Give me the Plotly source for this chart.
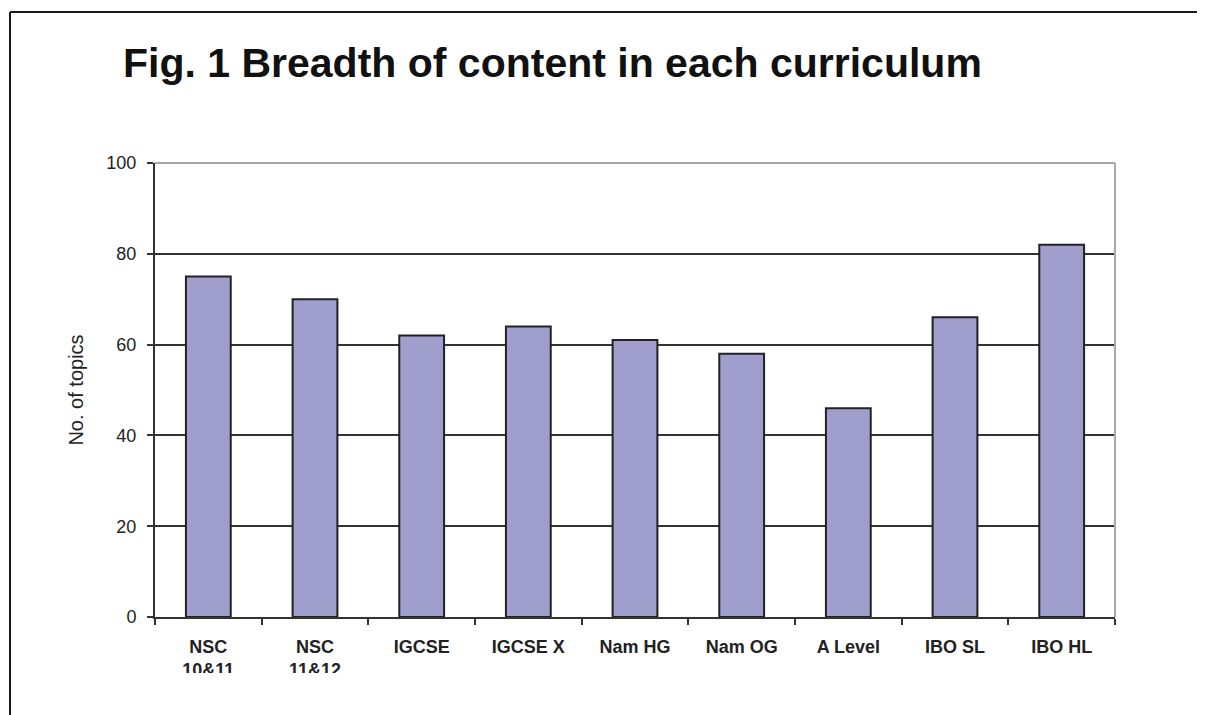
import plotly.graph_objects as go

categories = ["NSC<br>10&11", "NSC<br>11&12", "IGCSE", "IGCSE X", "Nam HG",
              "Nam OG", "A Level", "IBO SL", "IBO HL"]
topics = [75, 70, 62, 64, 61, 58, 46, 66, 82]
y_ticks = [0, 20, 40, 60, 80, 100]

OFF = 8  # page body margin
W, H = 1205 - OFF, 715 - OFF
L, R, T, B = 155 - OFF, 1115 - OFF, 163 - OFF, 617 - OFF

FONT = "Arial, 'Liberation Sans', sans-serif"

fig = go.Figure(go.Bar(
    x=categories, y=topics,
    marker=dict(color="#A09ECC", line=dict(color="#222222", width=2)),
    width=0.42,
))

def px_x(px):
    return (px - OFF - L) / (R - L)

def px_y(py):
    return (B - (py - OFF)) / (B - T)

shapes = [
    dict(type="line", xref="paper", yref="paper", x0=0, x1=1, y0=1, y1=1,
         line=dict(color="#A8A8A8", width=2), layer="above"),
    dict(type="line", xref="paper", yref="paper", x0=1, x1=1, y0=0, y1=1,
         line=dict(color="#A8A8A8", width=2), layer="above"),
    # clip lower part of the wrapped labels
    dict(type="rect", xref="paper", yref="paper",
         x0=px_x(60), x1=px_x(1200), y0=px_y(673), y1=px_y(716),
         fillcolor="white", line=dict(width=0), layer="above"),
    # outer frame (top and left)
    dict(type="line", xref="paper", yref="paper",
         x0=px_x(10), x1=px_x(1206), y0=px_y(12), y1=px_y(12),
         line=dict(color="#1a1a1a", width=2), layer="above"),
    dict(type="line", xref="paper", yref="paper",
         x0=px_x(10), x1=px_x(10), y0=px_y(12), y1=px_y(716),
         line=dict(color="#1a1a1a", width=2), layer="above"),
]

fig.update_layout(
    width=W, height=H,
    margin=dict(l=L, r=W - R, t=T, b=H - B, pad=0),
    paper_bgcolor="white", plot_bgcolor="white",
    showlegend=False,
    title=dict(text="<b>Fig. 1 Breadth of content in each curriculum</b>",
               font=dict(family=FONT, size=41, color="#111111"),
               xref="container", yref="container",
               x=(123 - OFF) / W, xanchor="left", y=1 - (63 - OFF) / H, yanchor="middle"),
    shapes=shapes,
    bargap=0.58,
)

fig.update_xaxes(
    type="category",
    showline=True, linecolor="#333333", linewidth=2,
    ticks="outside", tickson="boundaries", ticklen=6, tickwidth=2, tickcolor="#333333",
    tickfont=dict(family=FONT, size=18, color="#222222"),
    ticklabelstandoff=12,
    tickprefix="<b>", ticksuffix="</b>",
    showgrid=False,
)

fig.update_yaxes(
    range=[0, 100], tickvals=y_ticks,
    showline=True, linecolor="#333333", linewidth=2,
    ticks="outside", ticklen=6, tickwidth=2, tickcolor="#333333",
    tickfont=dict(family=FONT, size=18, color="#222222"),
    ticklabelstandoff=7,
    showgrid=True, gridcolor="#333333", gridwidth=2,
    zeroline=False,
    title=dict(text="No. of topics", font=dict(family=FONT, size=20, color="#222222"),
               standoff=17),
)

fig.write_html("out.html")
